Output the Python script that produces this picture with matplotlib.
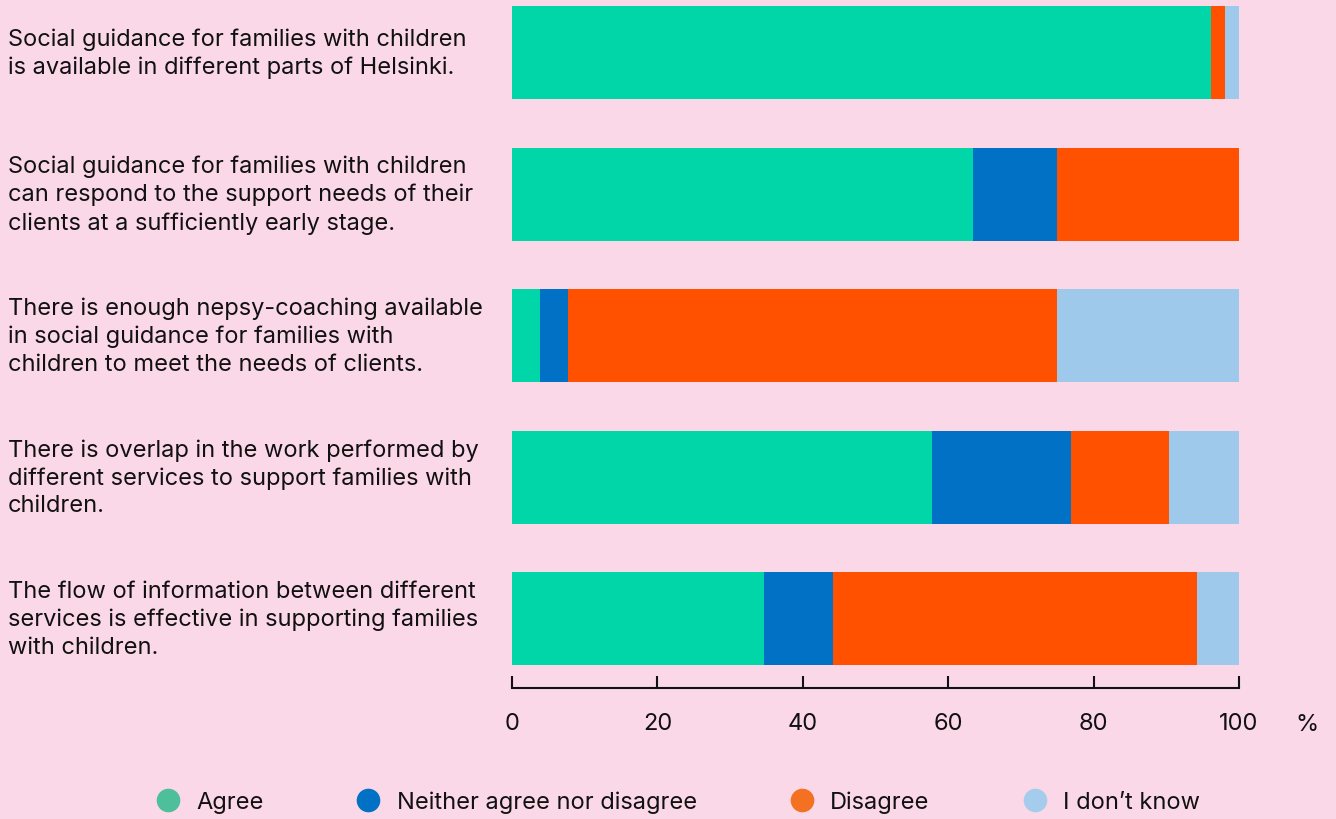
import matplotlib.pyplot as plt
import matplotlib.transforms as mtransforms
from matplotlib.lines import Line2D
import numpy as np

plt.rcParams['font.family'] = ['Inter', 'DejaVu Sans']

# Väitteet (kategorier)
statements = [
    "Social guidance for families with children\nis available in different parts of Helsinki.",
    "Social guidance for families with children\ncan respond to the support needs of their\nclients at a sufficiently early stage.",
    "There is enough nepsy-coaching available\nin social guidance for families with\nchildren to meet the needs of clients.",
    "There is overlap in the work performed by\ndifferent services to support families with\nchildren.",
    "The flow of information between different\nservices is effective in supporting families\nwith children.",
]

# Andelar i procent
agree = [96.2, 63.4, 3.8, 57.8, 34.7]
neither = [0.0, 11.6, 3.9, 19.1, 9.5]
disagree = [1.9, 25.0, 67.3, 13.5, 50.0]
dont_know = [1.9, 0.0, 25.0, 9.6, 5.8]

series_names = ["Agree", "Neither agree nor disagree", "Disagree", "I don\u2019t know"]
bar_colors = ["#00D6A8", "#0071C5", "#FF5100", "#9FC9EB"]
legend_colors = ["#4DBF9B", "#0071C5", "#F37121", "#A5CCEC"]
bg = "#FAD8E8"

fig = plt.figure(figsize=(13.36, 8.2), dpi=100, facecolor=bg)
ax = fig.add_axes([512 / 1336, 1 - 689 / 820, 727 / 1336, 689 / 820])
ax.set_facecolor(bg)

y = np.arange(len(statements))
left = np.zeros(len(statements))
for vals, col in zip([agree, neither, disagree, dont_know], bar_colors):
    ax.barh(y, vals, left=left, height=0.657, color=col, edgecolor="none")
    left += np.array(vals)

ax.set_xlim(0, 100)
ax.set_ylim(4.49, -0.38)
ax.set_yticks([])
ax.set_xticks([0, 20, 40, 60, 80, 100])
ax.tick_params(axis="x", direction="in", length=9, width=1.5, pad=17,
               labelsize=17, colors="#111111")
for s in ["top", "right", "left"]:
    ax.spines[s].set_visible(False)
ax.spines["bottom"].set_linewidth(1.5)
ax.spines["bottom"].set_color("#111111")

ax.text(1.094, -0.037, "%", transform=ax.transAxes, fontsize=17,
        ha="center", va="top", color="#111111")

# Väittetexter till vänster
trans = mtransforms.blended_transform_factory(fig.transFigure, ax.transData)
for i, txt in enumerate(statements):
    ax.text(8 / 1336, i, txt, transform=trans, ha="left", va="center",
            fontsize=17, linespacing=1.33, color="#111111")

handles = [Line2D([], [], marker="o", linestyle="none", markersize=17,
                  markerfacecolor=c, markeredgecolor="none") for c in legend_colors]
fig.legend(handles, series_names, loc="center", bbox_to_anchor=(0.503, 1 - 803 / 820),
           ncol=4, frameon=False, fontsize=17, handletextpad=0.2, columnspacing=3.45,
           labelcolor="#111111")

fig.savefig("out.png", dpi=100, facecolor=bg)
